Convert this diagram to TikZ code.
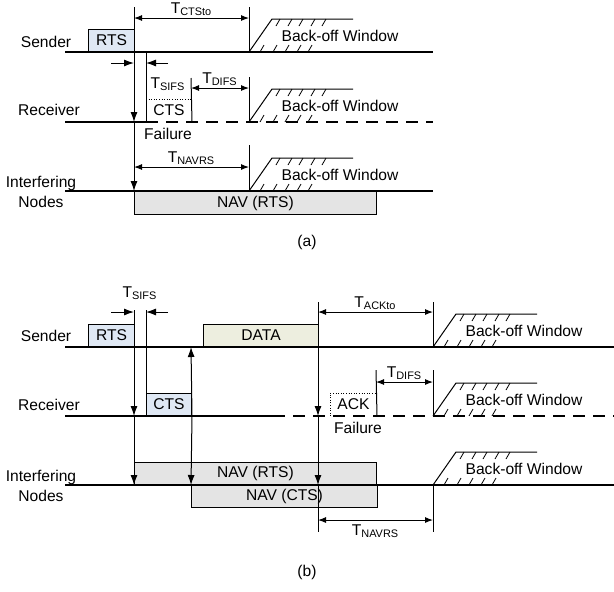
\documentclass[tikz,border=0pt]{standalone}
\usepackage{fontspec}
\setmainfont{Liberation Sans}
\usepackage{xcolor}
\usepackage{tikz}
\usetikzlibrary{arrows.meta,positioning}
\definecolor{ctrlblue}{HTML}{DFE8F4}
\definecolor{datagreen}{HTML}{EDEEDF}
\definecolor{navgray}{HTML}{E4E4E4}

\begin{document}
\begin{tikzpicture}[
    x=0.5pt, y=-0.5pt,
    font=\fontsize{7.8}{10}\selectfont,
    timeline/.style={line width=0.8pt},
    lossline/.style={line width=0.8pt, dash pattern=on 6pt off 4pt},
    tick/.style={line width=0.5pt},
    hatch/.style={line width=0.4pt},
    sig/.style={line width=0.5pt, -{Latex[length=5pt,width=3.5pt]}},
    span/.style={line width=0.5pt, {Latex[length=4pt,width=3pt]}-{Latex[length=4pt,width=3pt]}},
    frame/.style={draw, line width=0.5pt, inner sep=0pt, minimum height=11pt},
    ctrl/.style={frame, fill=ctrlblue, minimum width=23pt},
    lbl/.style={align=center, inner sep=0pt},
    backoff/.pic={
        \draw[tick] (0,0) -- (23,-33) -- (104,-33);
        \foreach \h in {31,43,54,66,77} \draw[hatch] (\h,-33) -- ++(-4,7);
        \foreach \h in {11,24,36,48,59} \draw[hatch] (\h,0) -- ++(4,-7);
        \node at (91,-16) {Back-off Window};
    }
]
\useasboundingbox (0,0) rectangle (614,591);

% (a)
\node[lbl] (sendA) at (46,42) {Sender};
\node[lbl] (recvA) at (49,110) {Receiver};
\node[lbl] (intA) at (41,192) {Interfering\\Nodes};

\draw[timeline] (65,52) -- (433,52);
\draw[timeline] (65,122) -- (146,122);
\draw[lossline] (146,122) -- (433,122);
\draw[timeline] (65,191) -- (433,191);

\node[ctrl, anchor=south west] (rtsA) at (88,52) {RTS};
\node[frame, draw=none, minimum width=22.5pt, anchor=south west] (ctsA) at (146,122) {CTS};
\draw[densely dotted, line width=0.3pt] (ctsA.north west) -- (ctsA.north east);
\node[frame, fill=navgray, minimum width=121pt, minimum height=11.5pt, anchor=north west] (navA) at (134,191) {NAV (RTS)};

\coordinate (sA1) at (134,52);
\coordinate (rA1) at (134,122);
\coordinate (iA1) at (134,191);
\draw[tick] (134,7) -- (sA1);
\draw[sig] (sA1) -- (rA1);
\draw[sig] (rA1) -- (iA1);
\draw[tick] (146,52) -- (ctsA.south west);
\draw[tick] (191,78) -- (ctsA.south east);
\draw[tick] (249,7) -- (249,52);
\draw[tick] (249,77) -- (249,122);
\draw[tick] (249,145) -- (249,191);

\draw[span] (134,18) -- node[lbl, above=1pt] {T\textsubscript{CTSto}} (249,18);
\draw[sig] (111,63) -- (134,63);
\draw[sig] (168,63) -- (146,63);
\node[lbl] (sifsA) at (168,84) {T\textsubscript{SIFS}};
\draw[span] (191,88) -- node[lbl, above=1pt] {T\textsubscript{DIFS}} (249,88);
\node[lbl] (failA) at (168,134) {Failure};
\draw[span] (134,167) -- node[lbl, above=1pt] {T\textsubscript{NAVRS}} (249,167);

\pic at (249,52) {backoff};
\pic at (249,122) {backoff};
\pic at (249,191) {backoff};

\node[lbl] (capA) at (307,242) {(a)};

% (b)
\node[lbl] (sendB) at (46,336) {Sender};
\node[lbl] (recvB) at (49,405) {Receiver};
\node[lbl] (intB) at (41,486) {Interfering\\Nodes};

\draw[timeline] (65,347) -- (614,347);
\draw[timeline] (65,416) -- (273,416);
\draw[lossline] (273,416) -- (614,416);
\draw[timeline] (65,485) -- (614,485);

\node[ctrl, anchor=south west] (rtsB) at (88,347) {RTS};
\node[ctrl, minimum width=22.5pt, anchor=south west] (ctsB) at (146,416) {CTS};
\node[frame, fill=datagreen, minimum width=57.5pt, anchor=south west] (dataB) at (203,347) {DATA};
\node[frame, draw=none, minimum width=23pt, anchor=south west] (ackB) at (330,416) {ACK};
\draw[densely dotted, line width=0.3pt] (ackB.south west) -- (ackB.north west) -- (ackB.north east);
\node[frame, fill=navgray, minimum width=121pt, anchor=south west] (navrtsB) at (134,485) {NAV (RTS)};
\node[frame, fill=navgray, minimum width=93pt, anchor=north west] (navctsB) at (191,485) {NAV (CTS)};

\coordinate (sB1) at (134,347);
\coordinate (rB1) at (134,416);
\coordinate (iB1) at (134,485);
\draw[tick] (134,310) -- (sB1);
\draw[sig] (sB1) -- (rB1);
\draw[sig] (rB1) -- (iB1);
\draw[tick] (146,310) -- (ctsB.north west);
\coordinate (sB2) at (191,347);
\coordinate (iB2) at (191,485);
\draw[sig] (ctsB.south east) -- (sB2);
\draw[sig] (ctsB.south east) -- (iB2);
\coordinate (sB3) at (318,347);
\coordinate (rB3) at (318,416);
\coordinate (iB3) at (318,485);
\draw[tick] (318,302) -- (sB3);
\draw[sig] (sB3) -- (rB3);
\draw[sig] (rB3) -- (iB3);
\draw[tick] (iB3) -- (318,532);
\draw[tick] (376,370) -- (ackB.south east);
\draw[tick] (433,302) -- (433,347);
\draw[tick] (433,370) -- (433,416);
\draw[tick] (433,485) -- (433,532);

\draw[sig] (111,312) -- (134,312);
\draw[sig] (168,312) -- (146,312);
\node[lbl] (sifsB) at (140,293) {T\textsubscript{SIFS}};
\draw[span] (318,312) -- node[lbl, above=1pt] {T\textsubscript{ACKto}} (433,312);
\draw[span] (376,382) -- node[lbl, above=1pt] {T\textsubscript{DIFS}} (433,382);
\node[lbl] (failB) at (358,428) {Failure};
\draw[span] (318,520) -- node[lbl, below=2pt] {T\textsubscript{NAVRS}} (433,520);

\pic at (433,347) {backoff};
\pic at (433,416) {backoff};
\pic at (433,485) {backoff};

\node[lbl] (capB) at (307,572) {(b)};
\end{tikzpicture}
\end{document}
